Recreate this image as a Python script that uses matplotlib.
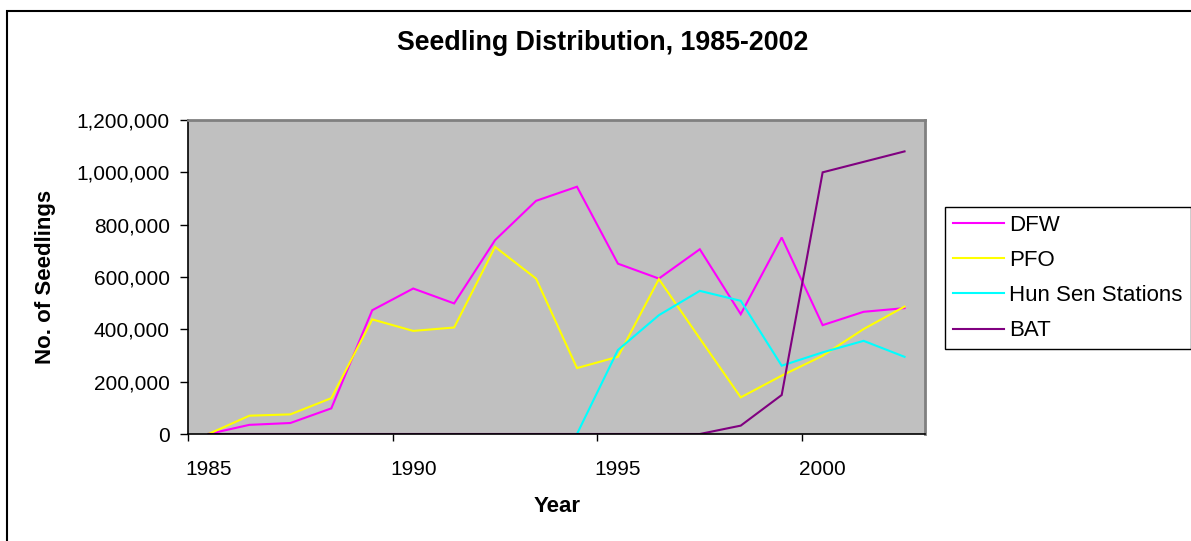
import numpy as np
import matplotlib

matplotlib.use("Agg")
import matplotlib.pyplot as plt
from matplotlib.patches import Rectangle
from matplotlib.ticker import FuncFormatter

plt.rcParams["font.family"] = ["Liberation Sans", "DejaVu Sans"]

YEARS = list(range(1985, 2003))
DFW = [0, 35000, 42000, 98000, 473000, 556000, 499000, 741000, 891000, 945000,
       651000, 594000, 706000, 458000, 751000, 416000, 467000, 481000]
PFO = [0, 70000, 75000, 137000, 438000, 394000, 407000, 715000, 594000, 252000,
       295000, 592000, 365000, 140000, 223000, 299000, 401000, 487000]
HUN_SEN = [None] * 9 + [0, 321000, 454000, 547000, 509000, 261000, 312000, 356000, 295000]
BAT = [0] * 13 + [32000, 149000, 1000000, 1040000, 1080000]

SERIES = [
    ("DFW", DFW, "#FF00FF"),
    ("PFO", PFO, "#FFFF00"),
    ("Hun Sen Stations", HUN_SEN, "#00FFFF"),
    ("BAT", BAT, "#800080"),
]
LABEL_YEARS = [1985, 1990, 1995, 2000]

W, H = 1191, 541
fig = plt.figure(figsize=(W / 100, H / 100), dpi=100)
fig.patch.set_facecolor("white")

# chart frame (cut off on the right and bottom in the original)
fig.patches.append(Rectangle((7 / W, -0.2), 1.2, 1.2 - 11 / H, transform=fig.transFigure,
                             fill=False, edgecolor="black", linewidth=1.5, clip_on=False))

ax = fig.add_axes([188 / W, 1 - 434 / H, (925 - 188) / W, (434 - 120) / H])
ax.set_facecolor("#C0C0C0")

x = np.arange(len(YEARS))
for name, vals, color in SERIES:
    y = np.array([np.nan if v is None else v for v in vals], dtype=float)
    ax.plot(x, y, color=color, linewidth=1.5, label=name, solid_joinstyle="miter")

ax.set_xlim(-0.5, len(YEARS) - 0.5)
ax.set_ylim(0, 1200000)
ax.set_yticks(np.arange(0, 1200001, 200000))
ax.yaxis.set_major_formatter(FuncFormatter(lambda v, p: f"{int(v):,}"))

# Excel-style category axis: tick marks between categories, labels on categories
ax.set_xticks(np.arange(-0.5, len(YEARS), 5))
ax.set_xticklabels([])
ax.set_xticks([YEARS.index(yr) for yr in LABEL_YEARS], minor=True)
ax.set_xticklabels([str(yr) for yr in LABEL_YEARS], minor=True)
ax.tick_params(axis="x", which="major", direction="out", length=5, width=1, color="black")
ax.tick_params(axis="x", which="minor", length=0, pad=18.5, labelsize=15)
ax.tick_params(axis="y", direction="out", length=6, width=1, color="black", pad=7, labelsize=15)

for side in ["top", "right"]:
    ax.spines[side].set_color("#808080")
    ax.spines[side].set_linewidth(2)
ax.spines["left"].set_color("black")
ax.spines["bottom"].set_color("black")
ax.spines["left"].set_linewidth(1.2)
ax.spines["bottom"].set_linewidth(1.2)

fig.text(603 / W, 1 - 43 / H, "Seedling Distribution, 1985-2002", ha="center", va="center",
         fontsize=19.3, fontweight="bold")
fig.text(557 / W, 1 - 507 / H, "Year", ha="center", va="center", fontsize=16, fontweight="bold")
fig.text(45 / W, 1 - 277 / H, "No. of Seedlings", ha="center", va="center", rotation=90,
         fontsize=16, fontweight="bold")

leg = ax.legend(loc="upper left", bbox_to_anchor=(945 / W, 1 - 207 / H), bbox_transform=fig.transFigure,
                fontsize=16, frameon=True, fancybox=False, borderaxespad=0, borderpad=0.35,
                handlelength=2.3, handletextpad=0.25, labelspacing=0.64)
leg.get_frame().set_edgecolor("black")
leg.get_frame().set_linewidth(1)
leg.get_frame().set_alpha(1)

plt.savefig("out.png", dpi=100)
